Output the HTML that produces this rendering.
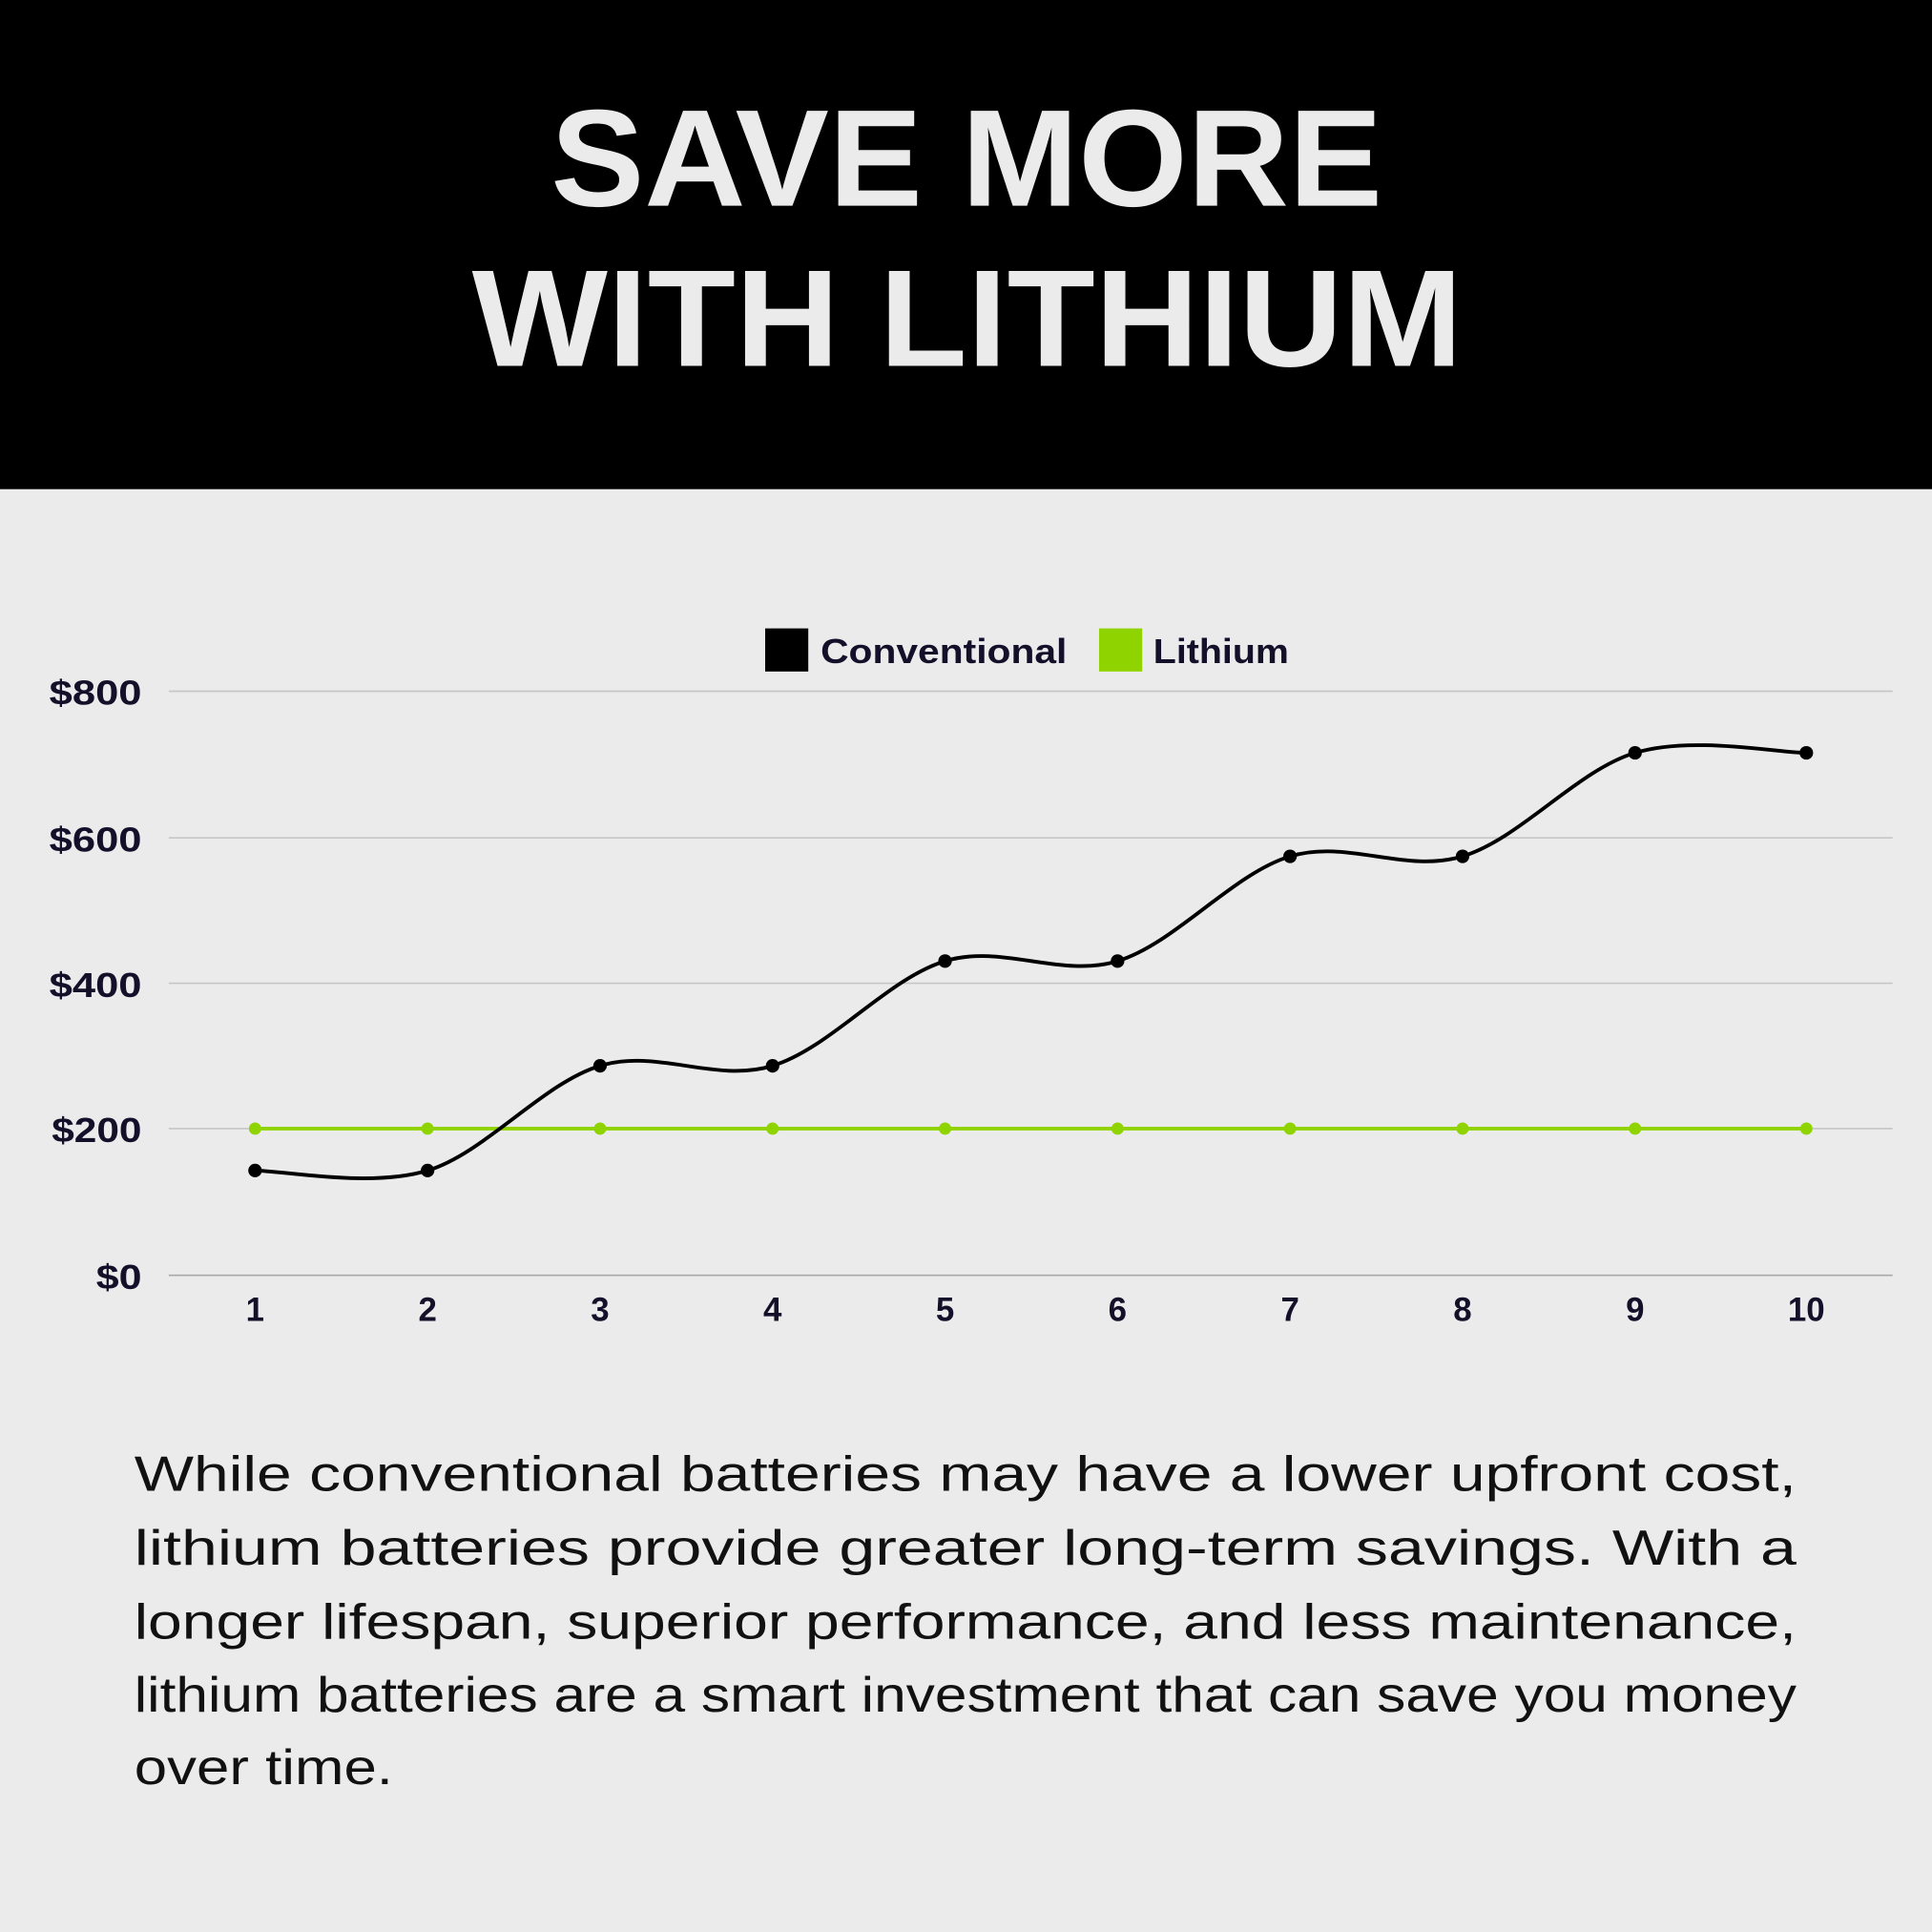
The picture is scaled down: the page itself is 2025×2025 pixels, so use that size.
<!DOCTYPE html>
<html><head><meta charset="utf-8"><style>
html,body{margin:0;padding:0;background:#ebebeb;}
svg{display:block;}
</style></head><body>
<svg width="2025" height="2025" viewBox="0 0 1568 1568" xmlns="http://www.w3.org/2000/svg">
<rect x="0" y="0" width="1568" height="1568" fill="#ebebeb"/>
<rect x="0" y="0" width="1568" height="397" fill="#000"/>
<g font-family="'Liberation Sans', sans-serif" font-weight="bold" fill="#ebebeb" font-size="112">
<text x="447" y="167" textLength="675" lengthAdjust="spacingAndGlyphs">SAVE MORE</text>
<text x="383" y="297" textLength="804" lengthAdjust="spacingAndGlyphs">WITH LITHIUM</text>
</g>
<!-- legend -->
<rect x="621" y="510" width="35" height="35" fill="#000"/>
<rect x="892" y="510" width="35" height="35" fill="#8fd400"/>
<g font-family="'Liberation Sans', sans-serif" font-weight="bold" fill="#14102a" font-size="28">
<text x="666" y="538" textLength="200" lengthAdjust="spacingAndGlyphs">Conventional</text>
<text x="936" y="538" textLength="110" lengthAdjust="spacingAndGlyphs">Lithium</text>
</g>
<!-- grid -->
<g stroke="#c6c6c6" stroke-width="1.3">
<line x1="137" y1="561" x2="1536" y2="561"/>
<line x1="137" y1="680" x2="1536" y2="680"/>
<line x1="137" y1="798" x2="1536" y2="798"/>
<line x1="137" y1="916" x2="1536" y2="916"/>
<line x1="137" y1="1035" x2="1536" y2="1035" stroke="#a8a8a8"/>
</g>
<g font-family="'Liberation Sans', sans-serif" font-weight="bold" fill="#14102a" font-size="28" text-anchor="end">
<text x="115" y="572" textLength="75" lengthAdjust="spacingAndGlyphs">$800</text>
<text x="115" y="691" textLength="75" lengthAdjust="spacingAndGlyphs">$600</text>
<text x="115" y="809" textLength="75" lengthAdjust="spacingAndGlyphs">$400</text>
<text x="115" y="927" textLength="73" lengthAdjust="spacingAndGlyphs">$200</text>
<text x="115" y="1046" textLength="37" lengthAdjust="spacingAndGlyphs">$0</text>
</g>
<g font-family="'Liberation Sans', sans-serif" font-weight="bold" fill="#14102a" font-size="27" text-anchor="middle">
<text x="207" y="1072">1</text><text x="347" y="1072">2</text><text x="487" y="1072">3</text><text x="627" y="1072">4</text><text x="767" y="1072">5</text><text x="907" y="1072">6</text><text x="1047" y="1072">7</text><text x="1187" y="1072">8</text><text x="1327" y="1072">9</text><text x="1466" y="1072">10</text>
</g>
<!-- lithium -->
<line x1="207" y1="916" x2="1466" y2="916" stroke="#8fd400" stroke-width="3"/>
<g fill="#8fd400">
<circle cx="207" cy="916" r="5"/><circle cx="347" cy="916" r="5"/><circle cx="487" cy="916" r="5"/><circle cx="627" cy="916" r="5"/><circle cx="767" cy="916" r="5"/><circle cx="907" cy="916" r="5"/><circle cx="1047" cy="916" r="5"/><circle cx="1187" cy="916" r="5"/><circle cx="1327" cy="916" r="5"/><circle cx="1466" cy="916" r="5"/>
</g>
<!-- conventional -->
<path d="M207,950 C230.3,950 300.3,964.2 347,950 C393.7,935.8 440.3,879.2 487,865 C533.7,850.8 580.3,879.2 627,865 C673.7,850.8 720.3,794.2 767,780 C813.7,765.8 860.3,794.2 907,780 C953.7,765.8 1000.3,709.2 1047,695 C1093.7,680.8 1140.3,709.2 1187,695 C1233.7,680.8 1280.3,625 1327,611 C1373.5,597 1442.8,611 1466,611" fill="none" stroke="#000" stroke-width="3"/>
<g fill="#000">
<circle cx="207" cy="950" r="5.5"/><circle cx="347" cy="950" r="5.5"/><circle cx="487" cy="865" r="5.5"/><circle cx="627" cy="865" r="5.5"/><circle cx="767" cy="780" r="5.5"/><circle cx="907" cy="780" r="5.5"/><circle cx="1047" cy="695" r="5.5"/><circle cx="1187" cy="695" r="5.5"/><circle cx="1327" cy="611" r="5.5"/><circle cx="1466" cy="611" r="5.5"/>
</g>
<!-- paragraph -->
<g font-family="'Liberation Sans', sans-serif" fill="#111" font-size="40">
<text x="109" y="1210" textLength="1349" lengthAdjust="spacingAndGlyphs">While conventional batteries may have a lower upfront cost,</text>
<text x="109" y="1270" textLength="1349" lengthAdjust="spacingAndGlyphs">lithium batteries provide greater long-term savings. With a</text>
<text x="109" y="1330" textLength="1349" lengthAdjust="spacingAndGlyphs">longer lifespan, superior performance, and less maintenance,</text>
<text x="109" y="1389" textLength="1349" lengthAdjust="spacingAndGlyphs">lithium batteries are a smart investment that can save you money</text>
<text x="109" y="1448" textLength="210" lengthAdjust="spacingAndGlyphs">over time.</text>
</g>
</svg>
</body></html>
